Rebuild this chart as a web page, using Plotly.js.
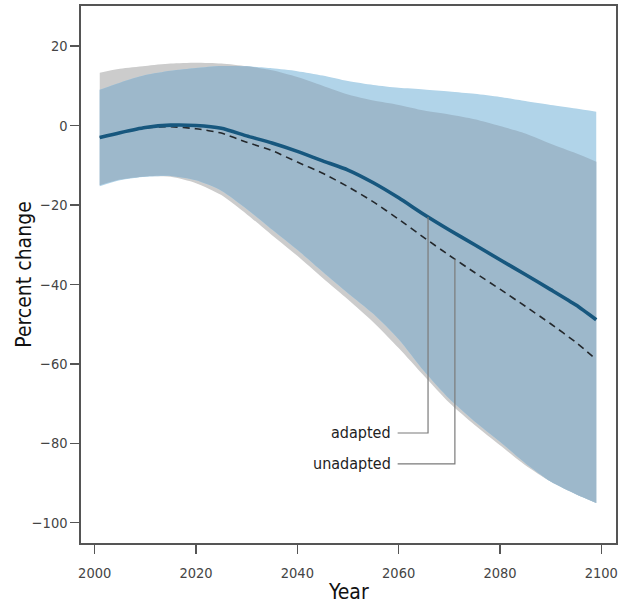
<!DOCTYPE html>
<html>
<head>
<meta charset="utf-8">
<script src="https://cdn.plot.ly/plotly-3.0.1.min.js"></script>
<style>
  html, body { margin: 0; padding: 0; background: #fff; }
  #chart { width: 623px; height: 605px; }
</style>
</head>
<body>
<div id="chart"></div>
<script>
// Projected percent change, 2001-2099, with and without adaptation
const years = [2001, 2005, 2010, 2015, 2020, 2025, 2030, 2035, 2040, 2045, 2050,
               2055, 2060, 2065, 2070, 2075, 2080, 2085, 2090, 2095, 2099];

const adaptedMean   = [-3.0, -1.8, -0.5, 0.1, 0.0, -0.7, -2.6, -4.4, -6.5, -8.9, -11.2,
                       -14.4, -18.2, -22.4, -26.3, -30.0, -33.8, -37.5, -41.3, -45.2, -48.9];
const unadaptedMean = [-3.0, -1.8, -0.6, -0.3, -0.8, -1.9, -4.2, -6.3, -9.2, -12.0, -15.4,
                       -19.2, -23.6, -28.2, -32.7, -37.0, -41.2, -45.5, -49.9, -54.6, -58.9];

const adaptedUpper   = [9.0, 10.8, 12.7, 13.8, 14.5, 15.0, 14.9, 14.4, 13.7, 12.6, 11.2,
                        10.2, 9.5, 9.1, 8.6, 8.0, 7.2, 6.2, 5.2, 4.3, 3.5];
const adaptedLower   = [-15.3, -13.8, -12.9, -12.7, -13.8, -16.4, -21.0, -26.2, -31.3, -36.8, -42.2,
                        -47.4, -53.8, -61.8, -68.8, -74.5, -79.6, -85.0, -89.6, -92.8, -95.0];
const unadaptedUpper = [13.3, 14.3, 15.0, 15.6, 15.8, 15.6, 14.9, 13.9, 12.2, 10.0, 7.8,
                        6.3, 5.2, 3.8, 2.8, 1.6, -0.1, -2.0, -4.6, -7.0, -9.1];
const unadaptedLower = [-15.0, -13.6, -12.8, -12.9, -14.5, -17.5, -22.3, -27.6, -32.8, -38.4, -43.8,
                        -49.5, -56.0, -63.0, -69.8, -75.4, -80.5, -85.5, -89.6, -92.8, -95.0];

const xTicks = [2000, 2020, 2040, 2060, 2080, 2100];
const yTicks = [-100, -80, -60, -40, -20, 0, 20];

const seriesLabels = ['adapted', 'unadapted'];
// where each leader line meets its curve, and the height of its label
const leaderYear  = [2065.8, 2071.1];
const leaderLevel = [-77.4, -85.2];
const labelYear = 2058.9;

const COND = "'DejaVu Sans Condensed', 'Liberation Sans Narrow', 'Arial Narrow', sans-serif";

// Each range is drawn as its upper edge and its lower edge, the second filled up to the first
function band(upper, lower, color) {
  const edge = {type: 'scatter', mode: 'lines', x: years, hoverinfo: 'skip', showlegend: false,
                line: {width: 0, shape: 'spline', smoothing: 0.7}};
  return [
    Object.assign({}, edge, {y: upper}),
    Object.assign({}, edge, {y: lower, fill: 'tonexty', fillcolor: color})
  ];
}

// region where the two uncertainty ranges overlap
const overlapUpper = years.map((_, i) => Math.min(adaptedUpper[i], unadaptedUpper[i]));
const overlapLower = years.map((_, i) => Math.max(adaptedLower[i], unadaptedLower[i]));

function interp(xs, ys, x) {
  for (let i = 0; i < xs.length - 1; i++) {
    if (x >= xs[i] && x <= xs[i + 1]) {
      const t = (x - xs[i]) / (xs[i + 1] - xs[i]);
      return ys[i] + t * (ys[i + 1] - ys[i]);
    }
  }
  return ys[ys.length - 1];
}

const traces = [].concat(
  band(unadaptedUpper, unadaptedLower, '#cccccc'),
  band(adaptedUpper, adaptedLower, '#b1d4e9'),
  band(overlapUpper, overlapLower, '#9db8cb'),
  [{
    x: years, y: unadaptedMean, type: 'scatter', mode: 'lines',
    line: {color: '#24282c', width: 1.6, dash: '7px,5px', shape: 'spline', smoothing: 0.6},
    showlegend: false
  },
  {
    x: years, y: adaptedMean, type: 'scatter', mode: 'lines',
    line: {color: '#17577e', width: 3.6, shape: 'spline', smoothing: 0.6},
    showlegend: false
  }]
);

const means = [adaptedMean, unadaptedMean];
const shapes = [];
const annotations = [];
seriesLabels.forEach((label, k) => {
  const yCurve = interp(years, means[k], leaderYear[k]);
  shapes.push({
    type: 'path', xref: 'x', yref: 'y',
    path: `M ${labelYear + 0.9} ${leaderLevel[k]} L ${leaderYear[k]} ${leaderLevel[k]} L ${leaderYear[k]} ${yCurve}`,
    line: {color: '#7a7a7a', width: 1.2}
  });
  annotations.push({
    x: labelYear, y: leaderLevel[k], xref: 'x', yref: 'y',
    text: label, showarrow: false, xanchor: 'right', yanchor: 'middle',
    font: {family: COND, size: 16, color: '#222'}
  });
});

annotations.push({
  x: -0.108, y: 0.5, xref: 'paper', yref: 'paper', textangle: -90,
  text: 'Percent change', showarrow: false, xanchor: 'center', yanchor: 'middle',
  font: {family: COND, size: 21, color: '#111'}
});
annotations.push({
  x: 0.5, y: -0.092, xref: 'paper', yref: 'paper',
  text: 'Year', showarrow: false, xanchor: 'center', yanchor: 'middle',
  font: {family: COND, size: 21, color: '#111'}
});

const axisCommon = {
  showgrid: false, zeroline: false,
  showline: true, mirror: true, linecolor: '#555', linewidth: 1.6,
  ticks: 'outside', ticklen: 9, tickwidth: 1.3, tickcolor: '#555',
  tickfont: {family: COND, size: 14.5, color: '#444'}
};

const layout = {
  width: 623, height: 605,
  margin: {l: 81, r: 7, t: 6, b: 62},
  paper_bgcolor: '#fff', plot_bgcolor: '#fff',
  showlegend: false,
  xaxis: Object.assign({}, axisCommon, {
    range: [1997.3, 2102.9], tickvals: xTicks, ticktext: xTicks.map(String),
    ticklabelstandoff: 7
  }),
  yaxis: Object.assign({}, axisCommon, {
    range: [-105.1, 30.1], tickvals: yTicks
  }),
  shapes: shapes,
  annotations: annotations
};

Plotly.newPlot('chart', traces, layout, {displayModeBar: false, staticPlot: true});
</script>
</body>
</html>
